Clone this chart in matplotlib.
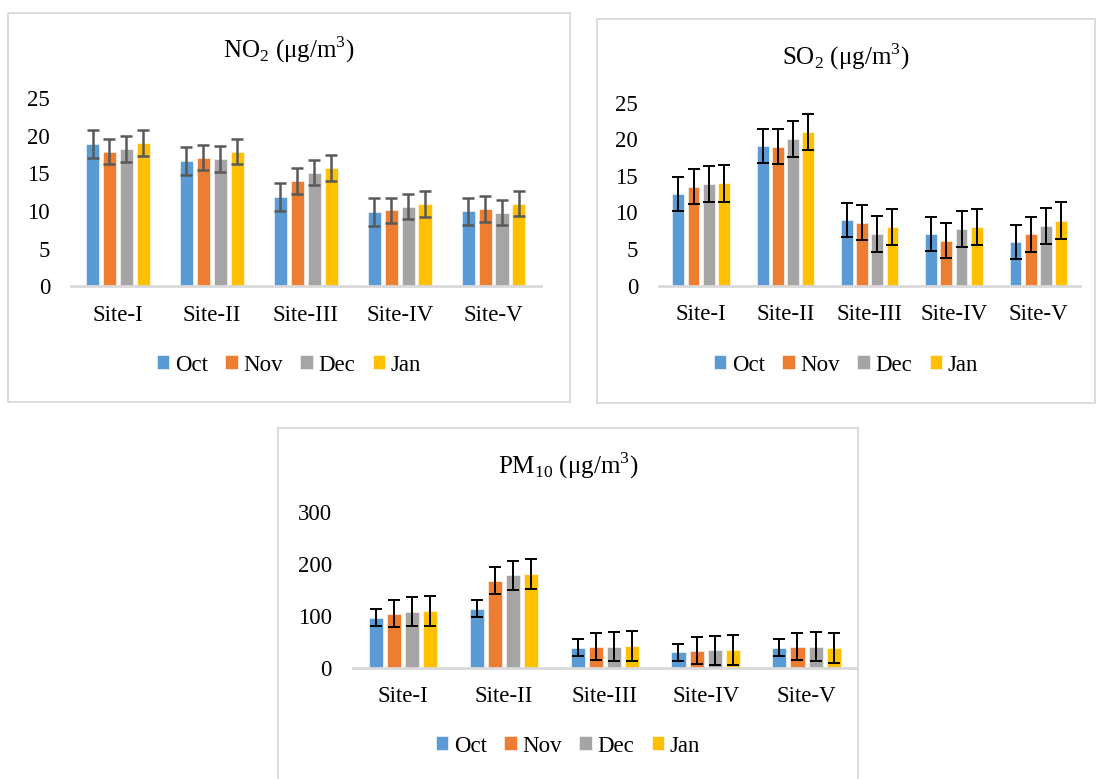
import numpy as np
import matplotlib
matplotlib.use("Agg")
from matplotlib import pyplot as plt
from matplotlib.patches import Rectangle

plt.rcParams['font.family'] = ['Liberation Serif', 'DejaVu Serif']
plt.rcParams['mathtext.fontset'] = 'custom'
plt.rcParams['mathtext.rm'] = 'Liberation Serif'

sites = ["Site-I", "Site-II", "Site-III", "Site-IV", "Site-V"]
months = ["Oct", "Nov", "Dec", "Jan"]
colors = ["#5B9BD5", "#ED7D31", "#A5A5A5", "#FFC000"]

# NO2 means and error per month (rows = months, cols = sites)
no2 = [[18.9, 16.6, 11.9, 9.9, 9.95],
       [17.9, 17.1, 14.0, 10.1, 10.3],
       [18.2, 16.9, 15.1, 10.6, 9.8],
       [19.0, 17.9, 15.7, 10.9, 11.0]]
no2_err = [1.85, 1.68, 1.7, 1.7]

so2 = [[12.5, 19.1, 9.0, 7.1, 6.0],
       [13.5, 19.0, 8.6, 6.15, 7.0],
       [13.9, 20.0, 7.05, 7.7, 8.15],
       [14.0, 21.0, 8.0, 8.0, 8.9]]
so2_err = [2.35, 2.4, 2.48, 2.5]

pm10 = [[96.6, 114, 38.6, 29.6, 38.6],
        [103.7, 168, 40, 32.2, 40],
        [108.2, 177.7, 40.6, 33.5, 40.6],
        [110, 180.3, 41.2, 34.8, 38.6]]
pm10_err = [17, 26, 28, 28.7]

W, H = 1097, 779
fig = plt.figure(figsize=(W / 100, H / 100), dpi=100)


def frac_rect(l, t, r, b):
    return [l / W, 1 - b / H, (r - l) / W, (b - t) / H]


def box(l, t, r, b):
    fig.patches.append(Rectangle((l / W, 1 - b / H), (r - l) / W, (b - t) / H,
                                 transform=fig.transFigure, fill=False,
                                 edgecolor="#D9D9D9", linewidth=1.3))


def panel(rect, data, err, ymax, ystep, ecol, elw, title, title_y, leg_x, leg_y):
    ax = fig.add_axes(frac_rect(*rect))
    x = np.arange(len(sites))
    for i, m in enumerate(months):
        ax.bar(x + (i - 1.5) * 0.18, data[i], 0.14, color=colors[i],
               edgecolor="white", linewidth=0.4, label=m, zorder=2,
               yerr=err[i], error_kw=dict(ecolor=ecol, elinewidth=elw,
                                          capsize=4.5, capthick=elw))
    ax.set_xlim(-0.5, len(sites) - 0.5)
    ax.set_ylim(0, ymax)
    ax.set_yticks(np.arange(0, ymax + 1, ystep))
    ax.set_xticks(x)
    ax.set_xticklabels(sites)
    ax.tick_params(length=0, labelsize=16.5, colors="black")
    ax.tick_params(axis="y", pad=15)
    ax.tick_params(axis="x", pad=13)
    for s in ["top", "right", "left"]:
        ax.spines[s].set_visible(False)
    ax.spines["bottom"].set_color("#D9D9D9")
    ax.spines["bottom"].set_linewidth(2)
    ax.patch.set_alpha(0)
    fig.text(leg_x / W, 1 - title_y / H, title, ha="center", va="center", fontsize=18)
    fig.legend(*ax.get_legend_handles_labels(), loc="center",
               bbox_to_anchor=(leg_x / W, 1 - leg_y / H), ncol=4, frameon=False,
               fontsize=16.5, handlelength=0.55, handleheight=0.55,
               handletextpad=0.25, columnspacing=0.75)
    return ax


box(8, 13, 570, 402)
box(597, 19, 1095, 403)
box(278, 428, 858, 782)

panel((71, 98, 540.5, 286.5), no2, no2_err, 25, 5, "#595959", 1.8,
      r"NO$_\mathregular{2}$ (μg/m$^\mathregular{3}$)", 50, 289, 365)
panel((659, 102.7, 1080.4, 285.7), so2, so2_err, 25, 5, "black", 1.4,
      r"SO$_\mathregular{2}$ (μg/m$^\mathregular{3}$)", 57, 846, 365)
panel((352.7, 512, 857, 667.7), pm10, pm10_err, 300, 100, "black", 1.4,
      r"PM$_\mathregular{10}$ (μg/m$^\mathregular{3}$)", 466, 568, 746)

fig.savefig("out.png", dpi=100, facecolor="white")
